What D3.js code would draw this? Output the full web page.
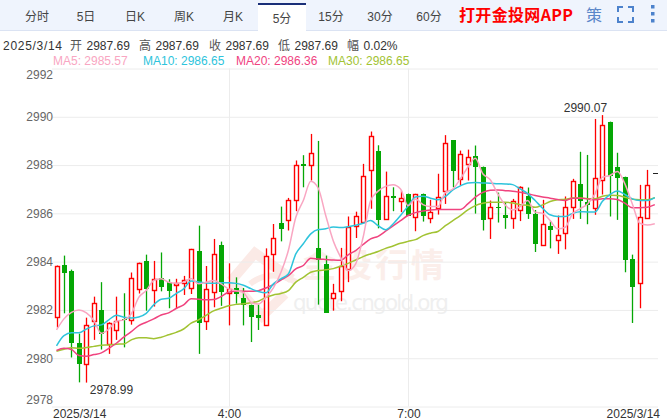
<!DOCTYPE html>
<html><head><meta charset="utf-8">
<script src="https://cdn.jsdelivr.net/npm/d3@7/dist/d3.min.js"></script>
<style>html,body{margin:0;padding:0;background:#fff;overflow:hidden}svg{display:block;font-family:"Liberation Sans","Noto Sans CJK SC",sans-serif}</style>
</head><body><svg id="c" width="667" height="420"></svg>
<script>
const tabs=["分时","5日","日K","周K","月K","5分","15分","30分","60分"];
const activeTab="5分";
const infoDate="2025/3/14";
const infoLabels=["开","高","收","低","幅"];
const infoValues=["2987.69","2987.69","2987.69","2987.69","0.02%"];
const maLegend=[["MA5: 2985.57","#f9a6c2"],["MA10: 2986.65","#2ec4dc"],["MA20: 2986.36","#f0437f"],["MA30: 2986.65","#a2c333"]];
const yTicks=[2978,2980,2982,2984,2986,2988,2990,2992];
const xTickPositions=[23,47];
const xTickText=["4:00","7:00"];
const candleOpen=[2981.70,2983.88,2983.63,2980.65,2979.76,2981.53,2982.01,2980.58,2981.17,2981.64,2981.59,2982.87,2984.03,2982.83,2983.33,2983.15,2983.03,2983.15,2982.90,2984.46,2981.55,2982.73,2984.71,2982.71,2982.91,2982.50,2982.22,2981.81,2981.38,2984.32,2985.62,2985.73,2986.56,2988.06,2988.01,2984.58,2983.91,2982.50,2982.77,2983.70,2985.49,2985.64,2987.79,2988.60,2985.76,2986.72,2986.50,2986.82,2985.85,2986.82,2985.81,2986.20,2986.92,2989.02,2987.41,2988.05,2988.39,2987.94,2985.81,2986.28,2985.94,2985.81,2986.13,2986.70,2985.99,2984.68,2985.49,2984.90,2985.19,2986.27,2987.22,2986.49,2986.23,2987.39,2989.80,2987.94,2987.52,2984.09,2983.12,2985.81,2987.69];
const candleClose=[2983.82,2983.56,2980.66,2979.76,2981.38,2982.29,2981.03,2981.46,2981.56,2981.60,2983.33,2983.95,2982.86,2983.29,2982.97,2982.76,2983.12,2983.26,2984.53,2981.49,2982.87,2984.32,2982.77,2982.88,2982.65,2982.19,2981.74,2981.70,2984.24,2984.98,2985.38,2986.56,2988.01,2987.98,2988.51,2984.07,2981.90,2982.71,2983.82,2985.42,2985.90,2987.55,2989.21,2985.74,2986.72,2986.65,2986.64,2985.91,2986.81,2985.91,2986.05,2986.67,2988.92,2987.74,2988.46,2988.32,2987.95,2985.74,2986.25,2986.25,2985.83,2986.51,2987.09,2985.96,2984.76,2985.56,2985.34,2985.11,2986.27,2987.35,2986.50,2986.36,2987.47,2989.67,2987.57,2987.50,2984.10,2982.94,2985.85,2987.18,2987.69];
const candleHigh=[2983.84,2984.25,2983.67,2981.02,2981.68,2982.55,2983.15,2981.49,2982.55,2982.69,2983.55,2983.96,2984.29,2984.03,2984.38,2983.27,2983.29,2983.41,2984.53,2985.49,2983.82,2984.94,2984.83,2983.93,2983.35,2982.91,2982.22,2982.22,2984.55,2985.56,2986.28,2986.64,2988.19,2988.41,2989.29,2989.00,2984.25,2983.08,2984.57,2985.87,2986.07,2988.05,2989.39,2988.82,2987.73,2987.08,2986.94,2986.82,2986.81,2986.82,2986.56,2987.64,2989.24,2989.02,2988.60,2988.64,2988.81,2987.94,2986.53,2986.86,2986.45,2986.60,2987.12,2987.07,2986.14,2986.56,2985.67,2985.91,2986.70,2987.43,2988.55,2988.42,2989.91,2990.07,2989.80,2988.51,2987.52,2984.29,2987.18,2987.80,2987.69];
const candleLow=[2981.27,2981.86,2980.03,2979.00,2978.99,2980.76,2980.36,2980.18,2980.76,2980.45,2981.39,2982.68,2981.97,2982.14,2982.77,2982.07,2982.04,2982.62,2982.66,2980.18,2981.17,2982.11,2982.17,2981.36,2982.26,2981.36,2980.67,2981.17,2981.38,2983.58,2984.84,2985.29,2986.09,2987.08,2987.36,2982.22,2981.89,2981.97,2982.36,2983.15,2984.98,2985.64,2986.19,2985.38,2985.76,2986.09,2986.05,2985.91,2985.26,2985.66,2985.59,2985.95,2986.39,2987.08,2987.15,2987.36,2985.99,2985.29,2984.94,2985.62,2985.36,2985.36,2985.68,2985.77,2984.40,2984.68,2984.55,2984.32,2984.51,2985.77,2985.77,2985.55,2985.94,2986.78,2985.87,2985.73,2983.56,2981.46,2982.07,2985.81,2987.69];
const ma5=[2981.17,2981.63,2981.90,2982.00,2981.88,2981.56,2981.03,2981.21,2981.53,2981.59,2981.84,2982.52,2982.80,2983.22,2983.29,2983.15,2983.11,2983.15,2983.30,2983.08,2983.15,2983.22,2983.08,2982.87,2982.80,2982.72,2982.32,2982.25,2982.52,2982.91,2983.55,2984.46,2985.84,2986.53,2987.33,2987.04,2985.91,2984.87,2984.18,2983.63,2983.91,2985.01,2986.53,2986.92,2987.12,2987.19,2987.01,2986.32,2986.59,2986.36,2986.28,2986.28,2986.87,2987.01,2987.43,2987.91,2988.28,2987.64,2987.39,2986.81,2986.35,2986.14,2986.28,2986.53,2986.05,2986.00,2985.70,2985.36,2985.42,2985.98,2986.19,2986.39,2986.81,2987.50,2987.57,2987.73,2987.22,2986.39,2985.59,2985.52,2985.57];
const ma10=[2980.51,2980.94,2981.05,2981.05,2981.21,2981.34,2981.38,2981.59,2981.78,2981.70,2981.67,2981.71,2981.86,2982.21,2982.44,2982.48,2982.68,2982.87,2983.20,2983.16,2983.12,2983.10,2983.13,2983.13,2983.10,2983.02,2982.88,2982.76,2982.71,2983.08,2983.29,2983.49,2984.32,2984.74,2985.15,2985.33,2985.36,2985.44,2985.41,2985.45,2985.51,2985.59,2985.70,2985.49,2985.32,2985.56,2985.91,2986.30,2986.68,2986.71,2986.63,2986.56,2986.70,2986.97,2987.14,2987.26,2987.28,2987.26,2987.25,2987.23,2987.22,2987.19,2987.01,2986.82,2986.53,2986.21,2985.94,2985.87,2985.87,2986.00,2986.07,2986.06,2986.06,2986.50,2986.78,2986.93,2986.78,2986.60,2986.53,2986.53,2986.65];
const ma20=[2980.32,2980.41,2980.36,2980.11,2980.08,2980.15,2980.22,2980.41,2980.62,2980.87,2981.10,2981.35,2981.49,2981.63,2981.79,2981.88,2982.06,2982.21,2982.46,2982.44,2982.42,2982.43,2982.55,2982.73,2982.77,2982.77,2982.77,2982.80,2982.91,2983.05,2983.24,2983.42,2983.70,2983.84,2984.14,2984.11,2984.09,2984.07,2984.06,2984.28,2984.46,2984.71,2984.94,2985.05,2985.26,2985.48,2985.70,2985.91,2986.03,2986.10,2986.14,2986.16,2986.16,2986.16,2986.16,2986.39,2986.67,2986.87,2986.96,2986.97,2986.94,2986.92,2986.87,2986.81,2986.74,2986.68,2986.63,2986.57,2986.53,2986.63,2986.63,2986.60,2986.56,2986.60,2986.61,2986.57,2986.42,2986.23,2986.23,2986.25,2986.36];
const ma30=[2980.29,2980.37,2980.43,2980.41,2980.44,2980.49,2980.54,2980.55,2980.58,2980.59,2980.76,2980.85,2980.85,2980.81,2980.87,2980.97,2981.07,2981.21,2981.45,2981.59,2981.77,2981.96,2982.07,2982.17,2982.23,2982.26,2982.30,2982.36,2982.52,2982.62,2982.68,2982.80,2983.15,2983.35,2983.56,2983.63,2983.66,2983.71,2983.81,2983.93,2984.07,2984.21,2984.32,2984.42,2984.55,2984.65,2984.76,2984.84,2984.91,2985.08,2985.18,2985.25,2985.49,2985.70,2985.91,2986.14,2986.32,2986.42,2986.46,2986.46,2986.46,2986.43,2986.36,2986.34,2986.25,2986.35,2986.49,2986.56,2986.58,2986.64,2986.65,2986.61,2986.60,2986.71,2986.75,2986.74,2986.67,2986.58,2986.56,2986.56,2986.65];

const svg=d3.select("#c");
const n=candleOpen.length;
const x=d3.scalePoint().domain(d3.range(n)).range([56.5,654.8]);
const y=d3.scaleLinear().domain([2978,2992]).range([406.5,68.5]);
const left=52,right=658;
// top bar
svg.append("rect").attr("width",667).attr("height",30).attr("fill","#eff4fd");
svg.append("rect").attr("y",30).attr("width",667).attr("height",1).attr("fill","#dbe3f3");
const tabX=d3.scalePoint().domain(tabs).range([37,429]);
const aw=48;
svg.append("rect").attr("x",tabX(activeTab)-aw/2).attr("y",3).attr("width",aw).attr("height",28).attr("fill","#fff");
svg.append("rect").attr("x",tabX(activeTab)-aw/2).attr("y",3).attr("width",aw).attr("height",2).attr("fill","#1a2f78");
svg.selectAll(".tab").data(tabs).join("text").attr("x",d=>tabX(d)).attr("y",d=>d===activeTab?23:21)
  .attr("text-anchor","middle").attr("font-size",12).attr("fill","#444").text(d=>d);
svg.append("text").attr("x",459).attr("y",21).attr("font-size",16).attr("font-weight","bold").attr("fill","#f00")
  .attr("font-family","'Noto Sans CJK SC','Liberation Sans',sans-serif").attr("textLength",114).text("打开金投网APP");
svg.append("text").attr("x",594).attr("y",21).attr("text-anchor","middle").attr("font-size",16).attr("fill","#5b87c9").text("策");
// fullscreen icon + menu dots
const iconPath="M618 12V7H623M628 7H633V12M633 17V22H628M623 22H618V17";
svg.append("path").attr("d",iconPath).attr("fill","none").attr("stroke","#4c82cc").attr("stroke-width",2);
[7,14,21].forEach(c=>svg.append("rect").attr("x",651).attr("y",c-2).attr("width",3.5).attr("height",3.5).attr("fill","#4c82cc"));
// info lines
svg.append("text").attr("x",3).attr("y",50).attr("font-size",12).attr("fill","#333").attr("textLength",59).text(infoDate);
const infoX=[70,139,209,278,347];
infoLabels.forEach((l,i)=>{
  svg.append("text").attr("x",infoX[i]).attr("y",50).attr("font-size",12).attr("fill","#555").text(l);
  svg.append("text").attr("x",infoX[i]+16.5).attr("y",50).attr("font-size",12).attr("fill","#333").text(infoValues[i]);
});
const maX=[53,143,236,328];
svg.selectAll(".leg").data(maLegend).join("text").attr("x",(d,i)=>maX[i]).attr("y",65).attr("font-size",12).attr("fill",d=>d[1]).text(d=>d[0]);
// watermark
const wm=svg.append("g");
wm.append("path").attr("d","M231 281L255 253L292 279M231 281L262 316L285 294").attr("fill","none").attr("stroke","#fbeae6").attr("stroke-width",10);
wm.append("path").attr("d","M250 284Q270 268 296 282").attr("fill","none").attr("stroke","#fbeae6").attr("stroke-width",6);
wm.append("text").attr("x",303).attr("y",277).attr("font-size",33).attr("font-weight","bold").attr("letter-spacing",3).attr("fill","#fbeeea").attr("font-family","'Noto Sans CJK SC',sans-serif").text("金投行情");
wm.append("text").attr("x",293).attr("y",310).attr("font-size",21.5).attr("fill","#efefef").attr("font-family","'DejaVu Sans',sans-serif").attr("textLength",156).text("quote.cngold.org");
// grid + axes
const gy=svg.append("g").attr("transform",`translate(${left},0)`).call(d3.axisLeft(y).tickValues(yTicks).tickSize(-(right-left)).tickFormat(d3.format("d")));
gy.select(".domain").remove();
gy.selectAll("line").attr("stroke","#ececec");
gy.selectAll("text").attr("font-size",12).attr("fill","#666").attr("font-family","inherit").attr("x",1).attr("dy",d=>d===2992?"0.8em":d===2978?"-0.25em":"0.32em");
const gx=svg.append("g").attr("transform","translate(0,406.5)");
xTickPositions.forEach((p,k)=>{
  gx.append("line").attr("x1",Math.round(x(p))+.5).attr("x2",Math.round(x(p))+.5).attr("y1",68.5-406.5).attr("y2",0).attr("stroke","#ececec");
  gx.append("text").attr("x",x(p)+1).attr("y",11).attr("text-anchor","middle").attr("font-size",12).attr("fill","#333").text(xTickText[k]);
});
gx.append("text").attr("x",53).attr("y",11).attr("font-size",12).attr("fill","#333").text("2025/3/14");
gx.append("text").attr("x",660).attr("y",11).attr("text-anchor","end").attr("font-size",12).attr("fill","#333").text("2025/3/14");
// candles
const up=i=>candleClose[i]>candleOpen[i];
const color=i=>up(i)?"#f00":candleClose[i]<candleOpen[i]?"#05a705":"#222";
const px=i=>Math.round(x(i))+.5;
const snap=v=>Math.round(v)+.5;
const g=svg.append("g");
const idx=d3.range(n);
g.selectAll(".w").data(idx).join("line").attr("x1",px).attr("x2",px).attr("y1",i=>y(candleHigh[i])).attr("y2",i=>y(candleLow[i])).attr("stroke",color).attr("stroke-width",1.3);
const bodyTop=i=>y(Math.max(candleOpen[i],candleClose[i])),bodyBot=i=>y(Math.min(candleOpen[i],candleClose[i]));
g.selectAll(".b").data(idx).join("rect")
 .attr("x",i=>up(i)?px(i)-2:px(i)-2.5).attr("width",i=>up(i)?4:5)
 .attr("y",i=>up(i)?snap(bodyTop(i)):Math.round(bodyTop(i)))
 .attr("height",i=>Math.max(1,Math.round(bodyBot(i)-bodyTop(i))))
 .attr("fill",i=>up(i)?"#fff":color(i))
 .attr("stroke",i=>up(i)?"#f00":"none").attr("stroke-width",1.4);
// MA lines
const line=d3.line().x((d,i)=>x(i)).y(d=>y(d)).curve(d3.curveMonotoneX);
[[ma30,"#a2c333"],[ma20,"#f0437f"],[ma10,"#2ec4dc"],[ma5,"#f9a6c2"]].forEach(([s,c])=>{
  svg.append("path").attr("d",line(s)).attr("fill","none").attr("stroke",c).attr("stroke-width",1.5);
});
// extreme labels
const hiI=d3.maxIndex(candleHigh),loI=d3.minIndex(candleLow);
svg.append("text").attr("x",x(hiI)-17).attr("y",y(candleHigh[hiI])-3).attr("text-anchor","middle").attr("font-size",12).attr("fill","#333").text(d3.format(".2f")(candleHigh[hiI]));
svg.append("text").attr("x",x(loI)+25).attr("y",y(candleLow[loI])+11).attr("text-anchor","middle").attr("font-size",12).attr("fill","#333").text(d3.format(".2f")(candleLow[loI]));
</script></body></html>
